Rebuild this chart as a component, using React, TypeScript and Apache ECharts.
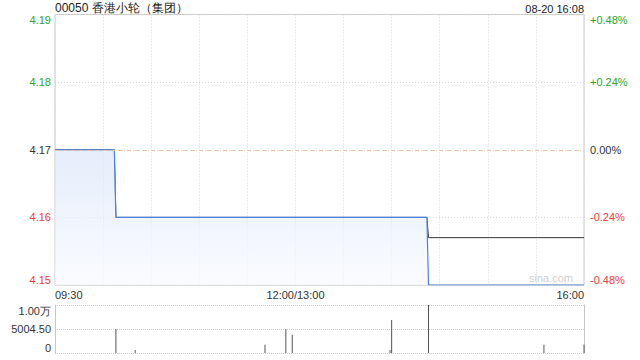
import React, { useEffect, useRef } from "react";
import * as echarts from "echarts";

const title = "00050 香港小轮（集团）";
const dateText = "08-20 16:08";
const prevClose = 4.17;
const yMin = 4.15;
const yMax = 4.19;
const yInterval = 0.01;

const priceTimes = ["09:30", "10:07", "10:08", "14:22", "14:23", "16:00"];
const priceValues = [4.17, 4.17, 4.16, 4.16, 4.15, 4.15];
const avgTimes = ["09:30", "10:07", "10:08", "14:22", "14:23", "16:00"];
const avgValues = [4.17, 4.17, 4.16, 4.16, 4.157, 4.157];

const volTimes = ["10:08", "10:20", "11:41", "11:54", "11:58", "13:59", "14:00", "14:23", "15:35", "16:00"];
const volValues = [5000, 600, 1700, 5000, 3800, 600, 6900, 10009, 1700, 1700];
const volMax = 10009;

const xTickLabels: Record<number, string> = { 0: "09:30", 150: "12:00/13:00", 330: "16:00" };

function toIdx(t: string): number {
  const [h, m] = t.split(":").map(Number);
  const mins = h * 60 + m;
  if (mins <= 720) return mins - 570;
  return mins - 780 + 150;
}

const FONT = "'Liberation Sans', Arial, sans-serif";
const GREEN = "#2aa52a";
const RED = "#f03a3a";
const DARK = "#333";

export default function App() {
  const ref = useRef<HTMLDivElement>(null);
  useEffect(() => {
    const chart = echarts.init(ref.current!, null, { renderer: "svg" });
    const pctMax = ((yMax - prevClose) / prevClose) * 100;
    const pctMin = ((yMin - prevClose) / prevClose) * 100;
    const gl = 55, gr = 56;
    chart.setOption({
      animation: false,
      textStyle: { fontFamily: FONT },
      graphic: [
        { type: "text", left: gl, top: 2, style: { text: title, fontSize: 12, fill: "#222", fontFamily: FONT } },
        { type: "text", right: gr, top: 3, style: { text: dateText, fontSize: 11, fill: "#222", fontFamily: FONT } },
        { type: "text", right: 67, top: 272, style: { text: "sina.com", fontSize: 11, fill: "#cfcfcf", fontFamily: FONT } },
      ],
      grid: [
        { left: gl, right: gr, top: 14.5, height: 270.5, show: true, borderColor: "#c8c8c8", borderWidth: 1 },
        { left: gl, right: gr, top: 305, height: 48 },
      ],
      xAxis: [
        {
          type: "value", gridIndex: 0, min: 0, max: 330, interval: 30,
          axisLine: { show: false }, axisTick: { show: false },
          splitLine: { show: true, lineStyle: { color: "#d6d6d6", type: [1, 2] } },
          axisLabel: {
            margin: 4, fontSize: 11, color: DARK, fontFamily: FONT,
            alignMinLabel: "left", alignMaxLabel: "right", showMinLabel: true, showMaxLabel: true,
            formatter: (v: number) => xTickLabels[v] ?? "",
          },
        },
        {
          type: "value", gridIndex: 1, min: 0, max: 330, interval: 30,
          axisLine: { show: false }, axisTick: { show: false }, splitLine: { show: false },
          axisLabel: { show: false },
        },
      ],
      yAxis: [
        {
          type: "value", gridIndex: 0, min: yMin, max: yMax, interval: yInterval,
          axisLine: { show: false }, axisTick: { show: false },
          splitLine: { show: true, lineStyle: { color: "#d6d6d6", type: [1, 2] } },
          axisLabel: {
            margin: 4, fontSize: 11, fontFamily: FONT,
            verticalAlignMinLabel: "bottom", verticalAlignMaxLabel: "top",
            formatter: (v: number) => v.toFixed(2),
            color: (v: any) => {
              const n = Number(v);
              return n > prevClose + 1e-6 ? GREEN : n < prevClose - 1e-6 ? RED : DARK;
            },
          },
        },
        {
          type: "value", gridIndex: 0, position: "right", min: pctMin, max: pctMax, interval: pctMax / 2,
          axisLine: { show: false }, axisTick: { show: false }, splitLine: { show: false },
          axisLabel: {
            margin: 6, fontSize: 11, fontFamily: FONT,
            verticalAlignMinLabel: "bottom", verticalAlignMaxLabel: "top",
            formatter: (v: number) => {
              const s = Math.abs(v).toFixed(2);
              return Math.abs(v) < 1e-6 ? "0.00%" : (v > 0 ? "+" : "-") + s + "%";
            },
            color: (v: any) => {
              const n = Number(v);
              return n > 1e-6 ? GREEN : n < -1e-6 ? RED : DARK;
            },
          },
        },
        {
          type: "value", gridIndex: 1, min: 0, max: volMax, interval: volMax / 2,
          axisLine: { show: true, lineStyle: { color: "#c8c8c8" } }, axisTick: { show: false },
          splitLine: { show: true, lineStyle: { color: "#c8c8c8", type: [1, 1] } },
          axisLabel: {
            margin: 4, fontSize: 11, color: DARK, fontFamily: FONT,
            verticalAlignMinLabel: "bottom", verticalAlignMaxLabel: "top",
            formatter: (v: number) => (v >= 10000 ? (v / 10000).toFixed(2) + "万" : v === 0 ? "0" : v.toFixed(2)),
          },
        },
        {
          type: "value", gridIndex: 1, position: "right", min: 0, max: volMax,
          axisLine: { show: true, lineStyle: { color: "#c8c8c8" } }, axisTick: { show: false },
          splitLine: { show: false }, axisLabel: { show: false },
        },
      ],
      series: [
        {
          type: "line", xAxisIndex: 0, yAxisIndex: 0, symbol: "none", silent: true,
          data: avgTimes.map((t, i) => [toIdx(t), avgValues[i]]),
          lineStyle: { color: "#333", width: 1 },
          z: 2,
        },
        {
          type: "line", xAxisIndex: 0, yAxisIndex: 0, symbol: "none", silent: true,
          data: priceTimes.map((t, i) => [toIdx(t), priceValues[i]]),
          lineStyle: { color: "#4a83dc", width: 1.2 },
          areaStyle: {
            origin: "start",
            color: new echarts.graphic.LinearGradient(0, 0, 0, 1, [
              { offset: 0, color: "#dae6fa" },
              { offset: 1, color: "#f8fafe" },
            ]),
          },
          markLine: {
            silent: true, symbol: "none", label: { show: false },
            lineStyle: { color: "#f6bf9c", type: [4, 4], width: 1 },
            data: [{ yAxis: prevClose }],
          },
          z: 3,
        },
        {
          type: "bar", xAxisIndex: 1, yAxisIndex: 2, barWidth: 1, silent: true,
          data: volTimes.map((t, i) => [toIdx(t), volValues[i]]),
          itemStyle: { color: "#555" },
        },
      ],
    });
    return () => chart.dispose();
  }, []);
  return <div ref={ref} style={{ width: 640, height: 360, position: "absolute", left: 0, top: 0, background: "#fff" }} />;
}
